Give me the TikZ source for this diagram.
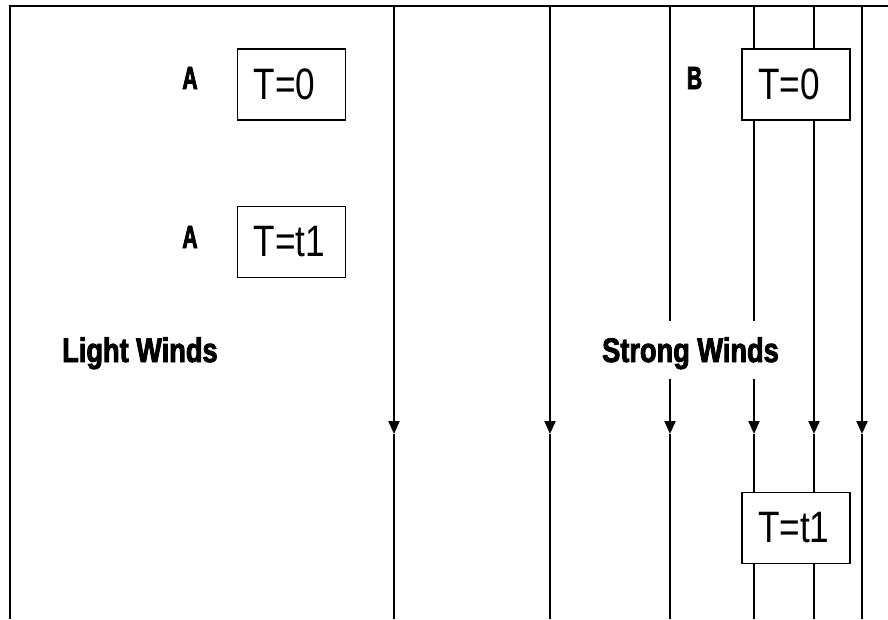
\documentclass[tikz,border=0pt]{standalone}
\usepackage{fontspec}
\setmainfont[FakeStretch=0.8, BoldFeatures={FakeBold=2.5}]{Liberation Sans}
\newfontfamily\letrafont[FakeStretch=0.66, BoldFeatures={FakeBold=2.5}]{Liberation Sans}
\usetikzlibrary{arrows.meta}

\begin{document}
\begin{tikzpicture}[x=1pt, y=-1pt,
        every node/.style={inner sep=0pt},
        caja/.style={draw, line width=1.5pt, fill=white, text width=76pt, inner xsep=16pt,
            minimum height=71pt, align=left, font=\fontsize{44}{44}\selectfont},
        etiqueta/.style={font=\letrafont\bfseries\fontsize{32}{32}\selectfont, anchor=base},
        viento/.style={font=\bfseries\fontsize{34}{36}\selectfont, anchor=base west},
        linea/.style={line width=2pt},
        flecha/.style={linea, -{Triangle[length=13pt, width=11pt]}}
    ]
    \useasboundingbox (0,0) rectangle (888,619);

    % marco
    \coordinate (esq) at (10,6);
    \draw [linea, line width=2.5pt] (10,619) -- (esq) -- (888,6);

    % lineas de corriente
    \foreach \x [count=\i] in {394,550,670,754,814,862} {
        \coordinate (t\i) at (\x,6);
        \coordinate (m\i) at (\x,434);
        \coordinate (b\i) at (\x,619);
        \draw [flecha] (t\i) -- (m\i);
        \draw [linea] (m\i) -- (b\i);
    }

    % vientos ligeros
    \node (a0) [caja] at (291.5,84.5) {T=0};
    \node (a1) [caja] at (291.5,242) {T=t1};
    \node (la0) [etiqueta] at (190,89) {A};
    \node (la1) [etiqueta] at (190,248) {A};
    \node (lw) [viento] at (62,362) {Light Winds};

    % vientos fuertes
    \node (fondo) [fill=white, minimum width=214pt, minimum height=58pt] at (705.5,350) {};
    \node (sw) [viento] at (602,362) {Strong Winds};
    \node (b0) [caja] at (796,84.5) {T=0};
    \node (b1) [caja] at (796,528) {T=t1};
    \node (lb0) [etiqueta] at (694.5,89) {B};
\end{tikzpicture}
\end{document}
